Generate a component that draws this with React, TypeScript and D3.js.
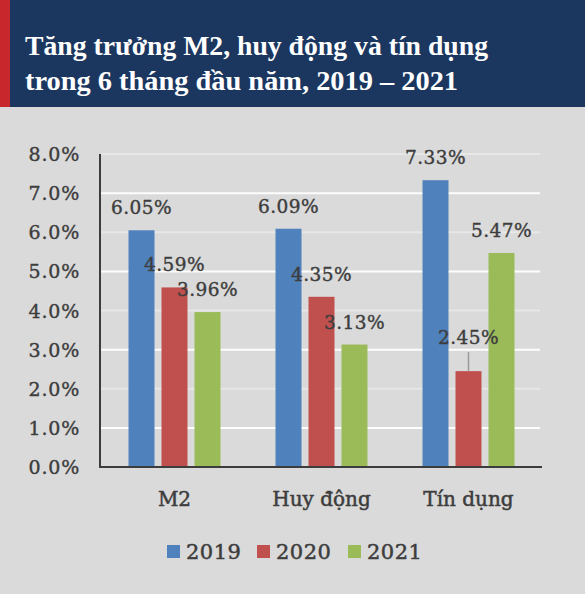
import React, { useEffect, useRef } from 'react';
import * as d3 from 'd3';

// chart data
const categories = ['M2', 'Huy động', 'Tín dụng'];
const years = ['2019', '2020', '2021'];
const values2019 = [6.05, 6.09, 7.33];
const values2020 = [4.59, 4.35, 2.45];
const values2021 = [3.96, 3.13, 5.47];
const yTicks = [0, 1, 2, 3, 4, 5, 6, 7, 8];
const titleLines = ['Tăng trưởng M2, huy động và tín dụng', 'trong 6 tháng đầu năm, 2019 – 2021'];

const W = 585;
const H = 594;
const colors = ['#4f81bd', '#c0504d', '#9bbb59'];
const textColor = '#3d3d3d';
const serif = '"DejaVu Serif", "Liberation Serif", serif';

const App: React.FC = () => {
  const svgRef = useRef<SVGSVGElement | null>(null);

  useEffect(() => {
    if (!svgRef.current) return;
    const svg = d3.select(svgRef.current);
    svg.selectAll('*').remove();

    const series = [values2019, values2020, values2021];

    // background
    svg.append('rect').attr('width', W).attr('height', H).attr('fill', '#dadada');

    // title band
    svg.append('rect').attr('width', W).attr('height', 107).attr('fill', '#1b3760');
    svg.append('rect').attr('width', 10).attr('height', 107).attr('fill', '#c8282c');
    svg.selectAll('text.title')
      .data(titleLines)
      .enter()
      .append('text')
      .attr('class', 'title')
      .attr('x', 25)
      .attr('y', (d, i) => 55 + i * 35)
      .attr('fill', '#ffffff')
      .attr('font-family', '"Liberation Serif", serif')
      .attr('font-weight', 'bold')
      .attr('font-size', 28)
      .attr('textLength', (d, i) => (i === 0 ? 463 : 433))
      .attr('lengthAdjust', 'spacingAndGlyphs')
      .text((d) => d);

    const x = d3.scaleBand().domain(categories).range([101, 542]);
    const xs = d3.scaleBand().domain(years).range([0, 92]).paddingInner(0.212);
    const groupOffset = (x.bandwidth() - 92) / 2;
    const y = d3.scaleLinear().domain([0, 8]).range([467, 154]);

    // grid lines
    svg.append('g')
      .selectAll('line')
      .data(yTicks.filter((t) => t > 0))
      .enter()
      .append('line')
      .attr('x1', 101)
      .attr('x2', 540)
      .attr('y1', (d) => y(d))
      .attr('y2', (d) => y(d))
      .attr('stroke', '#ffffff')
      .attr('stroke-width', 2)
      .attr('opacity', (d) => (d % 2 === 1 ? 0.95 : 0.35));

    // y axis labels
    svg.append('g')
      .selectAll('text')
      .data(yTicks)
      .enter()
      .append('text')
      .attr('x', 80)
      .attr('y', (d) => y(d) + 7)
      .attr('text-anchor', 'end')
      .attr('fill', textColor)
      .attr('stroke', textColor)
      .attr('stroke-width', 0.4)
      .attr('font-family', serif)
      .attr('font-size', 19)
      .attr('letter-spacing', 0.8)
      .text((d) => `${d.toFixed(1)}%`);

    // bars
    years.forEach((yr, si) => {
      svg.append('g')
        .selectAll('rect')
        .data(series[si])
        .enter()
        .append('rect')
        .attr('x', (d, i) => (x(categories[i]) as number) + groupOffset + (xs(yr) as number))
        .attr('y', (d) => y(d))
        .attr('width', xs.bandwidth())
        .attr('height', (d) => y(0) - y(d))
        .attr('fill', colors[si]);
    });

    // value labels
    years.forEach((yr, si) => {
      series[si].forEach((v, i) => {
        const cx = (x(categories[i]) as number) + groupOffset + (xs(yr) as number) + xs.bandwidth() / 2;
        const moved = categories[i] === 'Tín dụng' && yr === '2020';
        const lift = moved ? 27 : 16;
        if (moved) {
          svg.append('line')
            .attr('x1', cx)
            .attr('x2', cx)
            .attr('y1', y(v) - 19)
            .attr('y2', y(v))
            .attr('stroke', '#9a9a9a')
            .attr('stroke-width', 1.5);
        }
        svg.append('text')
          .attr('x', cx)
          .attr('y', y(v) - lift)
          .attr('text-anchor', 'middle')
          .attr('fill', textColor)
          .attr('stroke', textColor)
          .attr('stroke-width', 0.4)
          .attr('font-family', serif)
          .attr('font-size', 18.5)
          .attr('letter-spacing', 0.4)
          .text(`${v.toFixed(2)}%`);
      });
    });

    // axes lines
    svg.append('line')
      .attr('x1', 100).attr('x2', 100)
      .attr('y1', y(8)).attr('y2', y(0) + 1)
      .attr('stroke', '#3c3c3c').attr('stroke-width', 2);
    svg.append('line')
      .attr('x1', 100).attr('x2', 542)
      .attr('y1', y(0)).attr('y2', y(0))
      .attr('stroke', '#3c3c3c').attr('stroke-width', 2);

    // category labels
    svg.append('g')
      .selectAll('text')
      .data(categories)
      .enter()
      .append('text')
      .attr('x', (d) => (x(d) as number) + x.bandwidth() / 2)
      .attr('y', 506)
      .attr('text-anchor', 'middle')
      .attr('fill', textColor)
      .attr('stroke', textColor)
      .attr('stroke-width', 0.5)
      .attr('font-family', serif)
      .attr('font-size', 20)
      .text((d) => d);

    // legend
    const legendX = [167, 257, 348];
    years.forEach((yr, si) => {
      svg.append('rect')
        .attr('x', legendX[si])
        .attr('y', 545)
        .attr('width', 13)
        .attr('height', 13)
        .attr('fill', colors[si]);
      svg.append('text')
        .attr('x', legendX[si] + 19)
        .attr('y', 559)
        .attr('fill', textColor)
        .attr('stroke', textColor)
        .attr('stroke-width', 0.5)
        .attr('font-family', serif)
        .attr('font-size', 21)
        .attr('letter-spacing', 0.5)
        .text(yr);
    });
  }, []);

  return (
    <svg
      ref={svgRef}
      width={W}
      height={H}
      style={{ position: 'absolute', left: 0, top: 0 }}
    />
  );
};

export default App;
